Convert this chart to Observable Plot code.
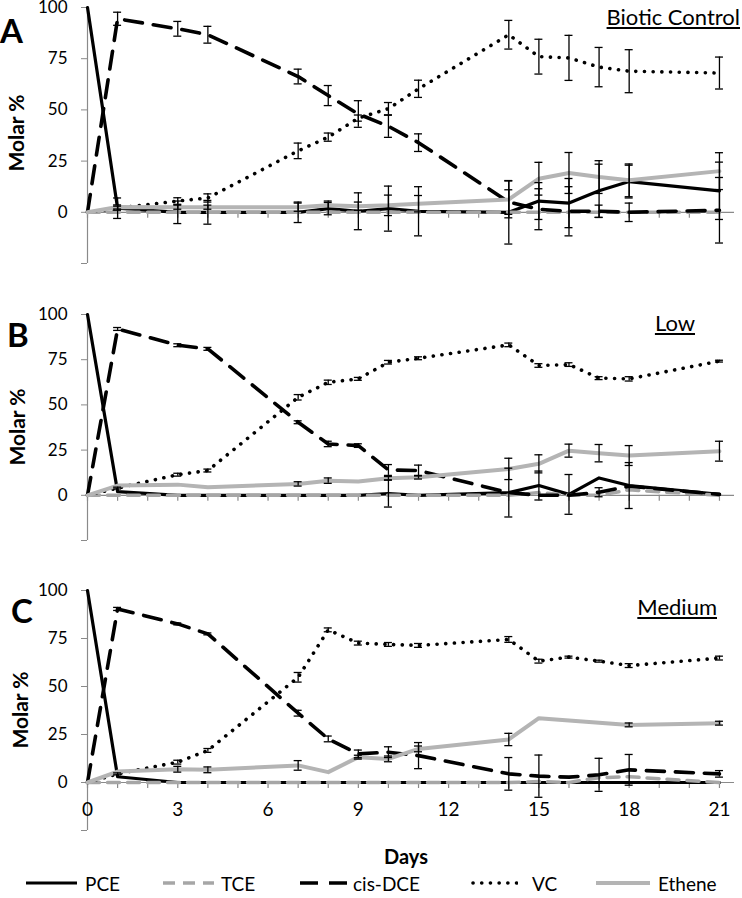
<!DOCTYPE html>
<html><head><meta charset="utf-8">
<script src="https://cdn.jsdelivr.net/npm/d3@7"></script>
<script src="https://cdn.jsdelivr.net/npm/@observablehq/plot@0.6"></script>
<style>
body{margin:0;background:#fff;}
#wrap{position:relative;width:742px;height:898px;font-family:Lato,sans-serif;color:#000;overflow:hidden;background:#fff}
.abs{position:absolute;white-space:nowrap;line-height:1}
</style></head><body><div id="wrap"></div>
<script>
// ---------------- data ----------------
const days = [0, 1, 3, 4, 7, 8, 9, 10, 11, 14, 15, 16, 17, 18, 21];
const speciesNames = ["PCE", "TCE", "cis-DCE", "VC", "Ethene"];
const yTicks = [-25, 0, 25, 50, 75, 100];
const xTickLabels = [0, 3, 6, 9, 12, 15, 18, 21];
const axisDays = d3.range(0, 22);

// Panel A - Biotic Control
const A_PCE = [100, 2, 0, 0, 0, 1.8, 0.5, 1.8, 0.5, 0, 5.5, 4.5, 10.5, 15, 10.5];
const A_PCE_err = [0, 5, 5.5, 5.8, 5, 3, 9, 11, 12, 15.5, 9, 12, 13, 8, 14];
const A_TCE = [0, 0, 0, 0, 0, 0, 0, 0, 0, 0, 0, 0, 0, 0, 0];
const A_DCE = [0, 94.5, 89.6, 86.7, 66.3, 57, 48, 42, 34, 5, 1.5, 0.5, 0.5, 0, 1];
const A_DCE_err = [0, 3.2, 3.6, 4.1, 3.6, 4.9, 6.5, 5.4, 4.3, 6, 10, 12, 3, 4.5, 16];
const A_VC = [0, 2, 5.5, 7, 30, 36.7, 46, 50.6, 60.3, 86.7, 76, 75.4, 70.9, 68.9, 68];
const A_VC_err = [0, 1, 1.6, 2, 3.8, 2, 1.5, 3, 4.2, 7, 8.5, 11, 9.6, 10.5, 7.8];
const A_ETH = [0, 2.6, 2.5, 2.5, 2.5, 3.5, 3, 3.4, 4.2, 6.3, 16.4, 19.2, 17.2, 15.6, 20.1];
const A_ETH_err = [0, 1, 1, 1, 2, 2, 2, 5, 4, 9, 8, 10, 8, 8, 9];

// Panel B - Low
const B_PCE = [100, 2, 0, 0, 0, 0, 0, 1, 0, 1.5, 5.4, 0.5, 9.6, 5.4, 0.5];
const B_PCE_err = [0, 0, 0, 0, 0, 0, 0, 7.5, 0, 13.5, 8, 11, 0, 12.7, 0];
const B_TCE = [0, 0, 0, 0, 0, 0, 0, 0, 0, 0, 1.5, 0, 0, 3, 0];
const B_DCE = [0, 92, 83, 81, 40.4, 28.4, 27.5, 14, 13.7, 1.5, 0, 0, 1.7, 5, 0.5];
const B_DCE_err = [0, 0.8, 0.8, 0.8, 0.8, 1.5, 1, 3, 3, 0, 0, 0, 2.5, 0, 0];
const B_VC = [0, 4, 11.4, 13.7, 54.2, 62.5, 64.4, 73.6, 75.8, 83.2, 71.8, 72.3, 64.8, 64.4, 74.2];
const B_VC_err = [0, 0.5, 0.8, 0.8, 1.5, 1.2, 0.8, 1, 0.8, 1, 1, 1, 0.8, 1.2, 0.5];
const B_ETH = [0, 5.4, 5.9, 4.4, 6.3, 8.1, 7.6, 9.4, 10, 14.6, 17.4, 24.7, 23.3, 22, 24.4];
const B_ETH_err = [0, 0, 0, 0, 1.2, 1.5, 0, 1, 1, 5.9, 5, 3.6, 4.8, 5.5, 5.5];

// Panel C - Medium
const C_PCE = [100, 3, 0, 0, 0, 0, 0, 0, 0, 0, 0, 0, 0, 0, 0];
const C_TCE = [0, 0, 0, 0, 0, 0, 0, 0, 0, 0, 0.5, 0, 2.5, 3, 0];
const C_DCE = [0, 90.4, 82.6, 77.4, 36.1, 22.7, 14.9, 15.8, 14, 4.5, 3.3, 2.8, 4, 6.6, 4.5];
const C_DCE_err = [0, 0.8, 0.5, 0.5, 1.5, 1.5, 2, 2.8, 6.8, 8.5, 11, 0, 8.6, 8, 1.7];
const C_VC = [0, 4.5, 10.6, 16.7, 54.8, 79.5, 72.6, 71.9, 71.4, 74.5, 63.2, 65.3, 63.2, 60.9, 64.8];
const C_VC_err = [0, 0.5, 1, 1, 2.5, 1, 1, 1, 1, 1.5, 1, 0.5, 0.5, 1, 1];
const C_ETH = [0, 5.7, 6.9, 6.6, 8.9, 5.4, 13.2, 12.3, 17.5, 22.4, 33.5, null, null, 30, 30.9];
const C_ETH_err = [0, 0, 1.5, 1.5, 2.5, 0, 1, 1.5, 1.5, 3.2, 0, 0, 0, 1, 1];

// ---------------- styles ----------------
const axisGrey = "#8a8a8a";
const styles = {
  "PCE":     {stroke: "#000", strokeWidth: 3.2},
  "TCE":     {stroke: "#a6a6a6", strokeWidth: 3.5, strokeDasharray: "12,8"},
  "cis-DCE": {stroke: "#000", strokeWidth: 3.6, strokeDasharray: "18,11"},
  "VC":      {stroke: "#000", strokeWidth: 3.6, strokeDasharray: "0.1,8.6", strokeLinecap: "round"},
  "Ethene":  {stroke: "#b4b4b4", strokeWidth: 4}
};

const wrap = document.getElementById("wrap");

function panel(p) {
  const rows = [];
  speciesNames.forEach((sp, k) => {
    const vals = p.values[k], errs = p.errors[k];
    days.forEach((d, i) => {
      if (vals[i] != null) rows.push({day: d, value: vals[i], err: errs ? errs[i] : 0, species: sp});
    });
  });
  const innerH = p.height - p.mt - p.mb;
  const pxPerUnit = innerH / 125;
  const pxPerDay = (742 - 87 - 8) / 21.5;
  const cap = 4 / pxPerDay;
  const errRows = rows.filter(r => r.err > 0);
  const marks = [
    Plot.ruleY([0], {stroke: axisGrey, strokeWidth: 1.2}),
    Plot.ruleX(axisDays, {x: d => d, y1: 0, y2: -6 / pxPerUnit, stroke: axisGrey, strokeWidth: 1.2}),
    Plot.ruleX([0], {stroke: axisGrey, strokeWidth: 1.2}),
    Plot.axisY({ticks: yTicks, tickFormat: d => d < 0 ? "" : String(d), tickSize: 6, tickPadding: 14,
                stroke: axisGrey, fontSize: 17, label: null})
  ];
  speciesNames.forEach(sp => {
    marks.push(Plot.line(rows.filter(r => r.species === sp),
      {x: "day", y: "value", strokeLinejoin: "round", ...styles[sp]}));
  });
  marks.push(
    Plot.ruleX(errRows, {x: "day", y1: d => d.value - d.err, y2: d => d.value + d.err, stroke: "#000", strokeWidth: 1.3}),
    Plot.ruleY(errRows, {y: d => d.value + d.err, x1: d => d.day - cap, x2: d => d.day + cap, stroke: "#000", strokeWidth: 1.3}),
    Plot.ruleY(errRows, {y: d => d.value - d.err, x1: d => d.day - cap, x2: d => d.day + cap, stroke: "#000", strokeWidth: 1.3})
  );
  if (p.xLabels) {
    marks.push(Plot.text(xTickLabels, {x: d => d, y: 0, dy: 27, text: d => String(d), fontSize: 19}));
  }
  const svg = Plot.plot({
    width: 742, height: p.height,
    marginLeft: 87, marginRight: 8, marginTop: p.mt, marginBottom: p.mb,
    x: {domain: [0, 21.5], axis: null},
    y: {domain: [-25, 100]},
    style: {fontFamily: "Lato, sans-serif", fontSize: "17px", background: "transparent", overflow: "visible", color: "#000"},
    marks
  });
  svg.style.position = "absolute";
  svg.style.left = "0px";
  svg.style.top = p.top + "px";
  wrap.appendChild(svg);
}

panel({top: 0, height: 275, mt: 7, mb: 12,
  values: [A_PCE, A_TCE, A_DCE, A_VC, A_ETH], errors: [A_PCE_err, null, A_DCE_err, A_VC_err, A_ETH_err]});
panel({top: 290, height: 260, mt: 24, mb: 10,
  values: [B_PCE, B_TCE, B_DCE, B_VC, B_ETH], errors: [B_PCE_err, null, B_DCE_err, B_VC_err, B_ETH_err]});
panel({top: 570, height: 280, mt: 20, mb: 20, xLabels: true,
  values: [C_PCE, C_TCE, C_DCE, C_VC, C_ETH], errors: [null, null, C_DCE_err, C_VC_err, C_ETH_err]});

// ---------------- text ----------------
function addText(txt, css) {
  const el = document.createElement("div");
  el.className = "abs";
  el.textContent = txt;
  Object.assign(el.style, css);
  wrap.appendChild(el);
  return el;
}
// panel letters
const panelLetters = ["A", "B", "C"];
const letterPos = [[0, 14], [7, 318], [11, 594]];
panelLetters.forEach((L, i) => addText(L, {left: letterPos[i][0] + "px", top: letterPos[i][1] + "px", fontSize: "33px", fontWeight: "bold"}));
// y titles
const yTitleCenters = [[15, 133], [16, 427], [19, 710]];
yTitleCenters.forEach(c => addText("Molar %", {left: c[0] + "px", top: c[1] + "px", fontSize: "21px", fontWeight: "bold",
  transform: "translate(-50%,-50%) rotate(-90deg)"}));
// panel titles
const panelTitles = ["Biotic Control", "Low", "Medium"];
const titlePos = [[740, 6], [695, 312], [717, 596]];
panelTitles.forEach((t, i) => addText(t, {left: titlePos[i][0] + "px", top: titlePos[i][1] + "px", fontSize: "22px",
  textDecoration: "underline", textUnderlineOffset: "2px", transform: "translateX(-100%)"}));
// x title
addText("Days", {left: "406px", top: "856px", fontSize: "20px", fontWeight: "bold", transform: "translate(-50%,-50%)"});

// ---------------- legend ----------------
const legendSwatchX = [24, 161, 298, 471, 594];
const legendSwatchW = [54, 54, 50, 47, 57];
const legendLabelX = [85, 221, 353, 532, 658];
const legendY = 883;
speciesNames.forEach((sp, i) => {
  const ns = "http://www.w3.org/2000/svg";
  const s = document.createElementNS(ns, "svg");
  s.setAttribute("width", legendSwatchW[i]);
  s.setAttribute("height", 10);
  Object.assign(s.style, {position: "absolute", left: legendSwatchX[i] + "px", top: (legendY - 5) + "px"});
  const ln = document.createElementNS(ns, "line");
  ln.setAttribute("x1", 2); ln.setAttribute("x2", legendSwatchW[i] - 1);
  ln.setAttribute("y1", 5); ln.setAttribute("y2", 5);
  const st = styles[sp];
  ln.setAttribute("stroke", st.stroke);
  ln.setAttribute("stroke-width", st.strokeWidth);
  if (st.strokeDasharray) ln.setAttribute("stroke-dasharray", st.strokeDasharray);
  if (st.strokeLinecap) ln.setAttribute("stroke-linecap", st.strokeLinecap);
  s.appendChild(ln);
  wrap.appendChild(s);
  addText(sp, {left: legendLabelX[i] + "px", top: legendY + "px", fontSize: "19px", transform: "translateY(-50%)"});
});
</script></body></html>
